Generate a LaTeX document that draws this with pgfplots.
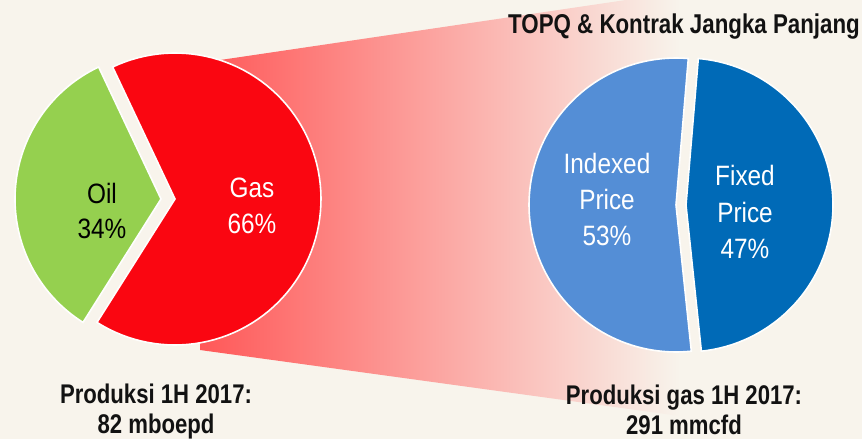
\documentclass[border=0pt]{standalone}
\usepackage{pgfplots}
\pgfplotsset{compat=1.18}
\usepackage{fontspec}
\setmainfont{Liberation Sans}
\newfontfamily\condreg[FakeStretch=0.87]{Liberation Sans}
\newfontfamily\condbold[FakeStretch=0.82]{Liberation Sans}

\definecolor{bgc}{RGB}{248,244,236}
\definecolor{gasred}{RGB}{250,6,17}
\definecolor{oilgreen}{RGB}{149,208,79}
\definecolor{idxblue}{RGB}{84,142,214}
\definecolor{fixblue}{RGB}{0,106,183}
\definecolor{fadered}{RGB}{255,88,88}

% shares (percent)
\def\oil{34}
\def\gas{66}
\def\idx{53}
\def\fix{47}

% one wedge: centre x, centre y, radius, start angle, end angle, colour
\newcommand{\pieslice}[6]{%
  \addplot[fill=#6, draw=white!92!bgc, line width=0.8pt, domain=#4:#5, samples=90, variable=\t]
    ({#1+#3*cos(\t)},{#2-#3*sin(\t)}) -- (axis cs:#1,#2) -- cycle;}

\begin{document}
\begin{tikzpicture}
\pgfmathsetmacro{\oilA}{176.5-1.8*\oil}
\pgfmathsetmacro{\oilB}{176.5+1.8*\oil}
\pgfmathsetmacro{\gasA}{\oilA-3.6*\gas}
\pgfmathsetmacro{\idxA}{180.6-1.8*\idx}
\pgfmathsetmacro{\idxB}{180.6+1.8*\idx}
\pgfmathsetmacro{\fixA}{\idxA-3.6*\fix}
\begin{axis}[
    scale only axis,
    width=431pt, height=219.5pt,
    xmin=0, xmax=862, ymin=0, ymax=439,
    y dir=reverse,
    hide axis,
    clip=true
]
\fill[bgc] (rel axis cs:0,0) rectangle (rel axis cs:1,1);

% connector from the gas slice to the second pie
\addplot[draw=none, left color=fadered, right color=bgc]
    coordinates {(200,63) (680,-8) (680,416) (200,350)} -- cycle;

% left pie: oil / gas
\pieslice{161}{199}{146}{\oilA}{\oilB}{oilgreen}
\pieslice{175}{199}{146}{\gasA}{\oilA}{gasred}

% right pie: indexed / fixed price
\pieslice{676}{205}{147}{\idxA}{\idxB}{idxblue}
\pieslice{686}{205}{147}{\fixA}{\idxA}{fixblue}

% slice labels
\node[anchor=base, font=\condreg\fontsize{14}{16}\selectfont, text=black] at (axis cs:102,203) {Oil};
\node[anchor=base, font=\condreg\fontsize{14}{16}\selectfont, text=black] at (axis cs:102,238) {34\%};
\node[anchor=base, font=\condreg\fontsize{14}{16}\selectfont, text=white] at (axis cs:252,197) {Gas};
\node[anchor=base, font=\condreg\fontsize{14}{16}\selectfont, text=white] at (axis cs:252,233) {66\%};
\node[anchor=base, font=\condreg\fontsize{14}{16}\selectfont, text=white] at (axis cs:607,173) {Indexed};
\node[anchor=base, font=\condreg\fontsize{14}{16}\selectfont, text=white] at (axis cs:607,209) {Price};
\node[anchor=base, font=\condreg\fontsize{14}{16}\selectfont, text=white] at (axis cs:607,245) {53\%};
\node[anchor=base, font=\condreg\fontsize{14}{16}\selectfont, text=white] at (axis cs:745,185) {Fixed};
\node[anchor=base, font=\condreg\fontsize{14}{16}\selectfont, text=white] at (axis cs:745,222) {Price};
\node[anchor=base, font=\condreg\fontsize{14}{16}\selectfont, text=white] at (axis cs:745,258) {47\%};

% titles
\node[anchor=base, font=\condbold\bfseries\fontsize{13.6}{15}\selectfont, text=black!93] at (axis cs:684,33) {TOPQ \& Kontrak Jangka Panjang};
\node[anchor=base, font=\condbold\bfseries\fontsize{13.5}{15}\selectfont, text=black!93] at (axis cs:156,403) {Produksi 1H 2017:};
\node[anchor=base, font=\condbold\bfseries\fontsize{13.5}{15}\selectfont, text=black!93] at (axis cs:156,433) {82 mboepd};
\node[anchor=base, font=\condbold\bfseries\fontsize{13.5}{15}\selectfont, text=black!93] at (axis cs:684,404) {Produksi gas 1H 2017:};
\node[anchor=base, font=\condbold\bfseries\fontsize{13.5}{15}\selectfont, text=black!93] at (axis cs:684,434) {291 mmcfd};
\end{axis}
\end{tikzpicture}
\end{document}
